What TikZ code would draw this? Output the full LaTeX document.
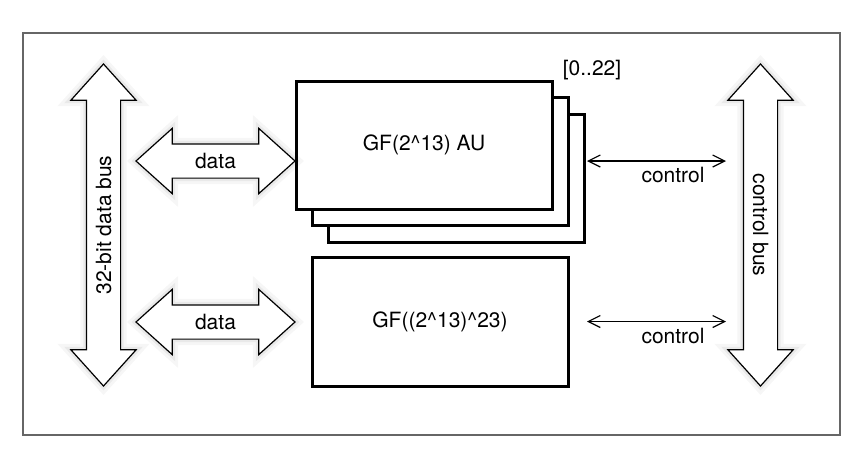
\documentclass[tikz,border=0pt]{standalone}
\usepackage{fontspec}
\setmainfont{TeX Gyre Heros}
\usepackage{tikz}
\usetikzlibrary{arrows.meta,calc,positioning,shapes.arrows}
\tikzset{
  unit/.style    = {draw, line width=3pt, fill=white, minimum width=256pt, minimum height=128pt,
                    font=\fontsize{21pt}{25pt}\selectfont},
  busarrow/.style = {double arrow, draw, line width=1.2pt, fill=white, line join=miter,
                    double arrow head extend=15.5pt, double arrow tip angle=84,
                    minimum width=64pt, text height=15pt, text depth=0pt, inner ysep=9pt,
                    font=\fontsize{21pt}{25pt}\selectfont,
                    preaction={draw=black, draw opacity=.035, line width=12pt},
                    preaction={draw=black, draw opacity=.05, line width=6pt}},
  ctrl/.style    = {{Straight Barb[length=12pt,width=12pt]}-{Straight Barb[length=12pt,width=12pt]},
                    line width=1.2pt},
  lbl/.style     = {font=\fontsize{21pt}{25pt}\selectfont},
}

\begin{document}
\begin{tikzpicture}[x=1pt,y=-1pt]
  \useasboundingbox (0,0) rectangle (867,451);
  \draw[gray!80!black, line width=1.2pt] (23,33) rectangle (840,435);
  % buses
  \node[busarrow, minimum height=322pt, rotate=90] (dbus) at (103.5,225) {32-bit data bus};
  \node[busarrow, minimum height=322pt, rotate=-90] (cbus) at (760.5,225) {control bus};
  % stacked arithmetic units
  \node[unit] (au3) at (456,178) {};
  \node[unit] (au2) at (440,161) {};
  \node[unit] (au1) at (424,145) {GF(2\^{}13) AU};
  \node[lbl] (cnt) at (592,70) {[0..22]};
  \node[unit, minimum height=129pt] (gfx) at (440,321.5) {GF((2\^{}13)\^{}23)};
  % data paths
  \node[busarrow, minimum height=159pt] (dat1) at (215.5,161) {data};
  \node[busarrow, minimum height=159pt] (dat2) at (215.5,322) {data};
  % control paths
  \draw[ctrl, shorten <=1.5pt, shorten >=34.5pt] (au3.east |- au2.center) -- (cbus.center |- au2.center)
    node[midway, below, lbl, inner sep=6pt] {control};
  \draw[ctrl, shorten <=1.5pt, shorten >=34.5pt] (au3.east |- gfx.center) -- (cbus.center |- gfx.center)
    node[midway, below, lbl, inner sep=6pt] {control};
\end{tikzpicture}
\end{document}
